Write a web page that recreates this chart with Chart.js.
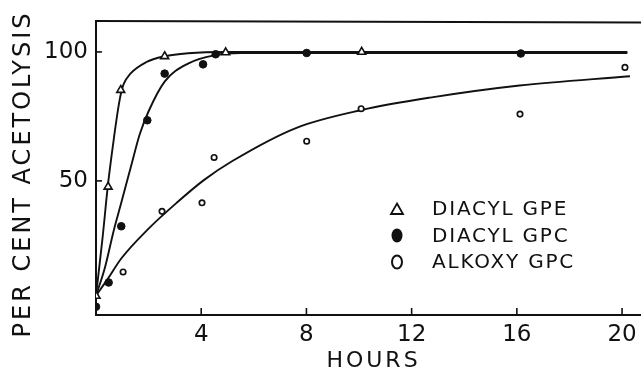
<!DOCTYPE html>
<html><head><meta charset="utf-8">
<script src="https://cdn.jsdelivr.net/npm/chart.js@4/dist/chart.umd.min.js"></script>
<style>html,body{margin:0;padding:0;background:#fff;overflow:hidden;}#wrap{width:641px;height:376px;position:relative;}canvas{display:block;}</style>
</head><body><div id="wrap"><canvas id="c" width="641" height="376" style="width:641px;height:376px"></canvas></div>
<script>
// ---- data ----
const xTickValues = [4, 8, 12, 16, 20];
const yTickValues = [50, 100];
const xTitle = 'HOURS';
const yTitle = 'PER CENT ACETOLYSIS';
const seriesLabels = ['DIACYL GPE', 'DIACYL GPC', 'ALKOXY GPC'];

const gpeHours  = [0, 0.46, 0.94, 2.61, 4.93, 10.1];
const gpeValues = [5.4, 47.7, 85.2, 98.3, 99.8, 100];
const gpcHours  = [0, 0.48, 0.96, 1.95, 2.61, 4.07, 4.55, 8.01, 16.15];
const gpcValues = [1.2, 10.6, 32.4, 73.5, 91.6, 95.2, 99.1, 99.6, 99.4];
const alkHours  = [1.03, 2.51, 4.03, 4.49, 8.01, 10.08, 16.12, 20.11];
const alkValues = [14.7, 38.2, 41.5, 59.1, 65.4, 78, 75.9, 94];

// fitted curves drawn through the points
const gpeCurveHours  = [0, 0.25, 0.46, 0.7, 0.85, 0.95, 1.05, 1.3, 1.9, 2.6, 3.5, 5, 20.2];
const gpeCurveValues = [5.5, 28, 49, 68, 78.5, 84, 87.5, 91.5, 96, 98.3, 99.5, 100, 100];
const gpcCurveHours  = [0, 0.33, 0.68, 0.96, 1.34, 1.66, 2.0, 2.61, 3.5, 4.5, 5.5, 20.2];
const gpcCurveValues = [5.5, 16, 31, 41.5, 56, 68, 77, 88.5, 95.5, 98.7, 99.6, 99.6];
const alkCurveHours  = [0, 0.46, 0.96, 2.0, 3.1, 4.1, 5.2, 7.6, 10.1, 12.7, 16.1, 20.3];
const alkCurveValues = [5.5, 12.2, 19.9, 31.5, 41.8, 50.3, 57.8, 70.5, 77.5, 82.3, 87, 90.6];

// ---- helpers ----
const pts = (xs, ys) => xs.map((x, i) => ({x, y: ys[i]}));
const FONT = '"DejaVu Sans", "Liberation Sans", sans-serif';
const INK = '#111';

// allow letter spacing / offsets for axis titles
const origDrawTitle = Chart.Scale.prototype.drawTitle;
Chart.Scale.prototype.drawTitle = function() {
  const t = this.options.title || {};
  const ctx = this.ctx;
  ctx.save();
  if ('letterSpacing' in ctx) ctx.letterSpacing = t.spacing || '0px';
  ctx.translate(t.dx || 0, t.dy || 0);
  origDrawTitle.call(this);
  ctx.restore();
};

const framePlugin = {
  id: 'frame',
  afterDatasetsDraw(chart) {
    const {ctx, chartArea: a, scales: {x, y}} = chart;
    ctx.save();
    ctx.strokeStyle = INK;
    ctx.lineWidth = 2;
    ctx.beginPath(); ctx.moveTo(a.left, a.top); ctx.lineTo(a.right, a.top + 1.5); ctx.stroke();
    ctx.lineWidth = 1.6;
    xTickValues.forEach(v => { const px = x.getPixelForValue(v); ctx.beginPath(); ctx.moveTo(px, a.bottom); ctx.lineTo(px, a.bottom - 7); ctx.stroke(); });
    yTickValues.forEach(v => { const py = y.getPixelForValue(v); ctx.beginPath(); ctx.moveTo(a.left, py); ctx.lineTo(a.left + 6, py); ctx.stroke(); });
    const lx = 397, tx = 432, rows = [209, 235.5, 262];
    ctx.font = '20px ' + FONT;
    if ('letterSpacing' in ctx) ctx.letterSpacing = '1.8px';
    ctx.fillStyle = INK; ctx.textBaseline = 'middle'; ctx.textAlign = 'left';
    seriesLabels.forEach((lab, i) => {
      const cy = rows[i];
      ctx.lineWidth = 1.8;
      ctx.beginPath();
      if (i === 0) {
        ctx.moveTo(lx, cy - 5.5); ctx.lineTo(lx + 6, cy + 5); ctx.lineTo(lx - 6, cy + 5); ctx.closePath(); ctx.stroke();
      } else if (i === 1) {
        ctx.ellipse(lx, cy, 5.5, 7, 0, 0, Math.PI * 2); ctx.fill();
      } else {
        ctx.ellipse(lx, cy, 5, 6.5, 0, 0, Math.PI * 2); ctx.lineWidth = 2; ctx.stroke();
      }
      ctx.fillText(lab, tx, cy + 1);
    });
    ctx.restore();
  }
};

const curveStyle = {type: 'line', showLine: true, pointRadius: 0, borderColor: INK, borderWidth: 1.9,
  cubicInterpolationMode: 'monotone', fill: false, order: 2};

new Chart(document.getElementById('c'), {
  type: 'scatter',
  data: {
    datasets: [
      Object.assign({label: seriesLabels[0] + ' curve', data: pts(gpeCurveHours, gpeCurveValues)}, curveStyle),
      Object.assign({label: seriesLabels[1] + ' curve', data: pts(gpcCurveHours, gpcCurveValues)}, curveStyle),
      Object.assign({label: seriesLabels[2] + ' curve', data: pts(alkCurveHours, alkCurveValues)}, curveStyle),
      {label: seriesLabels[0], data: pts(gpeHours, gpeValues), pointStyle: 'triangle', pointRadius: 4.6,
        backgroundColor: '#fff', borderColor: INK, borderWidth: 1.6, order: 1},
      {label: seriesLabels[1], data: pts(gpcHours, gpcValues), pointStyle: 'circle', pointRadius: 3.8,
        backgroundColor: INK, borderColor: INK, borderWidth: 1, order: 1},
      {label: seriesLabels[2], data: pts(alkHours, alkValues), pointStyle: 'circle', pointRadius: 2.7,
        backgroundColor: '#fff', borderColor: INK, borderWidth: 1.7, order: 1}
    ]
  },
  options: {
    responsive: false,
    maintainAspectRatio: false,
    animation: false,
    devicePixelRatio: 1,
    layout: {autoPadding: false, padding: {top: 21, left: 0, right: 0, bottom: 0}},
    plugins: {legend: {display: false}, tooltip: {enabled: false}},
    scales: {
      x: {
        type: 'linear', min: 0, max: 20.72,
        afterBuildTicks: s => { s.ticks = xTickValues.map(v => ({value: v})); },
        afterFit: s => { s.height = 61; s.paddingLeft = 0; s.paddingRight = 0; },
        grid: {display: false, drawTicks: false},
        border: {display: true, color: INK, width: 2},
        ticks: {color: INK, padding: 6, font: {family: FONT, size: 23}, maxRotation: 0, autoSkip: false},
        title: {display: true, text: xTitle, color: INK, font: {family: FONT, size: 22, lineHeight: 1},
          padding: {top: 0, bottom: 4}, spacing: '3px', dx: 5}
      },
      y: {
        type: 'linear', min: -2, max: 112,
        afterBuildTicks: s => { s.ticks = yTickValues.map(v => ({value: v})); },
        afterFit: s => { s.width = 96; s.paddingTop = 0; s.paddingBottom = 0; },
        grid: {display: false, drawTicks: false},
        border: {display: true, color: INK, width: 2},
        ticks: {color: INK, padding: 8, font: {family: FONT, size: 23}, autoSkip: false},
        title: {display: true, text: yTitle, color: INK, font: {family: FONT, size: 24, lineHeight: 1},
          padding: {top: 11, bottom: 0}, spacing: '3px', dx: 1, dy: 6}
      }
    }
  },
  plugins: [framePlugin]
});
</script>
</body></html>
